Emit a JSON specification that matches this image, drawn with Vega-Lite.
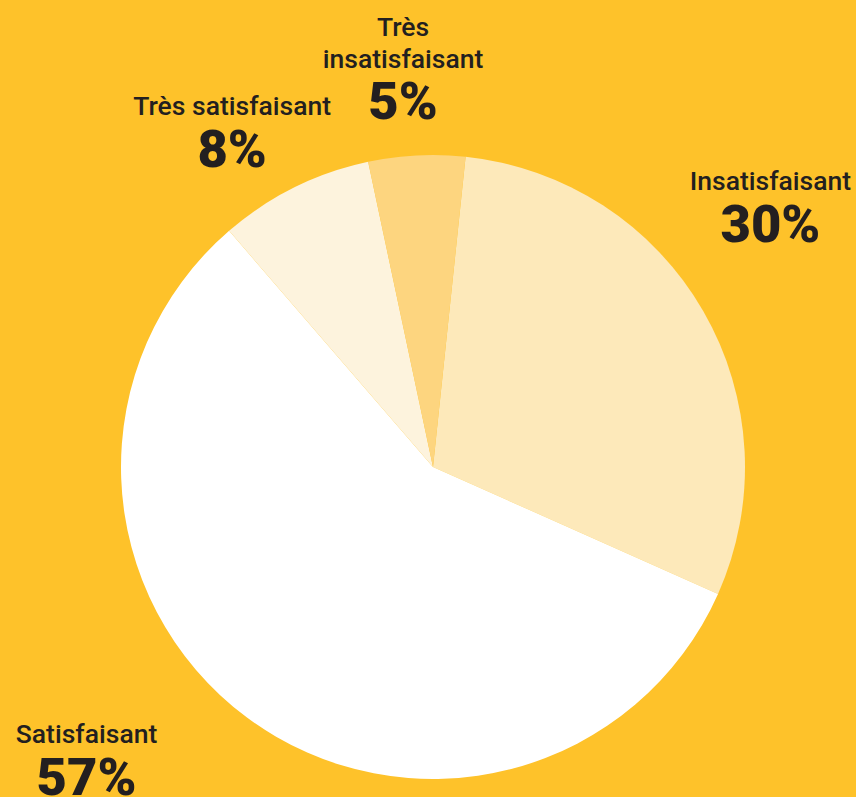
{
  "$schema": "https://vega.github.io/schema/vega-lite/v6.json",
  "width": 846,
  "height": 660,
  "autosize": {"type": "none"},
  "padding": {"left": 10, "top": 137, "right": 0, "bottom": 0},
  "background": "#FEC22A",
  "view": {"stroke": null},
  "config": {"font": "Roboto"},
  "data": {
    "values": [
      {"cat": "Insatisfaisant", "label": "Insatisfaisant", "value": 0.30, "ord": 1},
      {"cat": "Satisfaisant", "label": "Satisfaisant", "value": 0.57, "ord": 2},
      {"cat": "Très satisfaisant", "label": "Très satisfaisant", "value": 0.08, "ord": 3},
      {"cat": "Très insatisfaisant", "label": "Très\ninsatisfaisant", "value": 0.05, "ord": 4}
    ]
  },
  "encoding": {
    "theta": {"field": "value", "type": "quantitative", "stack": true, "scale": {"range": [0.1047, 6.3879]}},
    "order": {"field": "ord", "type": "quantitative"},
    "detail": {"field": "cat", "type": "nominal"}
  },
  "layer": [
    {
      "mark": {"type": "arc", "outerRadius": 312},
      "encoding": {
        "color": {
          "field": "cat",
          "type": "nominal",
          "scale": {
            "domain": ["Insatisfaisant", "Satisfaisant", "Très satisfaisant", "Très insatisfaisant"],
            "range": ["#FDE9BA", "#FFFFFF", "#FDF3DD", "#FDD57F"]
          },
          "legend": null
        }
      }
    },
    {
      "mark": {"type": "text", "radius": 400, "dx": -9, "dy": -77, "fontSize": 26.5, "fontWeight": 500, "color": "#231F20", "baseline": "alphabetic", "lineBreak": "\n", "lineHeight": 32},
      "encoding": {"text": {"condition": {"test": "datum.ord === 1", "field": "label"}, "value": ""}}
    },
    {
      "mark": {"type": "text", "radius": 400, "dx": -9, "dy": -25, "fontSize": 52.5, "fontWeight": 900, "color": "#231F20", "baseline": "alphabetic"},
      "encoding": {"text": {"condition": {"test": "datum.ord === 1", "field": "value", "type": "quantitative", "format": ".0%"}, "value": ""}}
    },
    {
      "mark": {"type": "text", "radius": 400, "dx": -108, "dy": -45, "fontSize": 26.5, "fontWeight": 500, "color": "#231F20", "baseline": "alphabetic", "lineBreak": "\n", "lineHeight": 32},
      "encoding": {"text": {"condition": {"test": "datum.ord === 2", "field": "label"}, "value": ""}}
    },
    {
      "mark": {"type": "text", "radius": 400, "dx": -108, "dy": 7, "fontSize": 52.5, "fontWeight": 900, "color": "#231F20", "baseline": "alphabetic"},
      "encoding": {"text": {"condition": {"test": "datum.ord === 2", "field": "value", "type": "quantitative", "format": ".0%"}, "value": ""}}
    },
    {
      "mark": {"type": "text", "radius": 400, "dx": -23, "dy": 6, "fontSize": 26.5, "fontWeight": 500, "color": "#231F20", "baseline": "alphabetic", "lineBreak": "\n", "lineHeight": 32},
      "encoding": {"text": {"condition": {"test": "datum.ord === 3", "field": "label"}, "value": ""}}
    },
    {
      "mark": {"type": "text", "radius": 400, "dx": -23, "dy": 58, "fontSize": 52.5, "fontWeight": 900, "color": "#231F20", "baseline": "alphabetic"},
      "encoding": {"text": {"condition": {"test": "datum.ord === 3", "field": "value", "type": "quantitative", "format": ".0%"}, "value": ""}}
    },
    {
      "mark": {"type": "text", "radius": 400, "dx": -9, "dy": -32, "fontSize": 26.5, "fontWeight": 500, "color": "#231F20", "baseline": "alphabetic", "lineBreak": "\n", "lineHeight": 32},
      "encoding": {"text": {"condition": {"test": "datum.ord === 4", "field": "label"}, "value": ""}}
    },
    {
      "mark": {"type": "text", "radius": 400, "dx": -9, "dy": 51, "fontSize": 52.5, "fontWeight": 900, "color": "#231F20", "baseline": "alphabetic"},
      "encoding": {"text": {"condition": {"test": "datum.ord === 4", "field": "value", "type": "quantitative", "format": ".0%"}, "value": ""}}
    }
  ]
}
